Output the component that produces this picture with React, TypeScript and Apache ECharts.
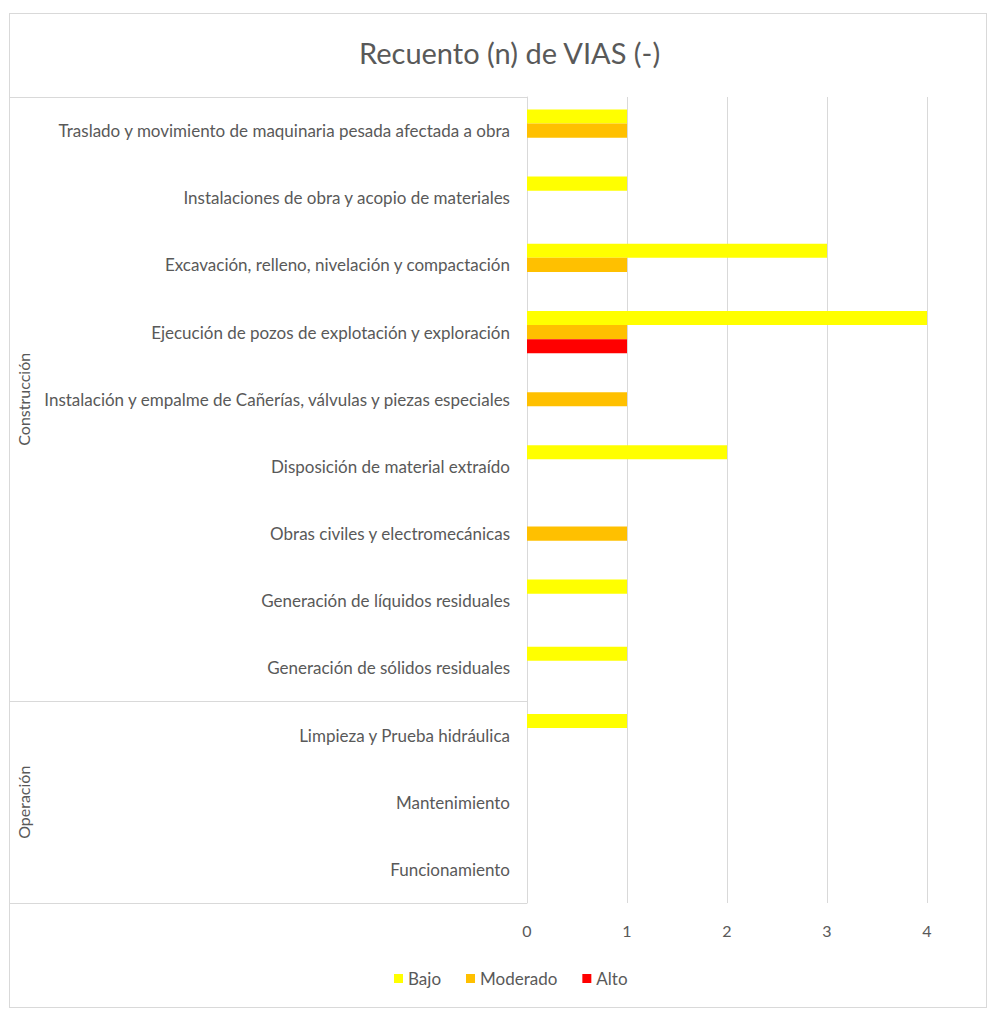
import React, { useEffect, useRef } from "react";
import * as echarts from "echarts";

const categories = [
  "Traslado y movimiento de maquinaria pesada afectada a obra",
  "Instalaciones de obra y acopio de materiales",
  "Excavación, relleno, nivelación y compactación",
  "Ejecución de pozos de explotación y exploración",
  "Instalación y empalme de Cañerías, válvulas y piezas especiales",
  "Disposición de material extraído",
  "Obras civiles y electromecánicas",
  "Generación de líquidos residuales",
  "Generación de sólidos residuales",
  "Limpieza y Prueba hidráulica",
  "Mantenimiento",
  "Funcionamiento",
];

const groups = [
  { name: "Construcción", count: 9 },
  { name: "Operación", count: 3 },
];

const bajo = [1, 1, 3, 4, 0, 2, 0, 1, 1, 1, 0, 0];
const moderado = [1, 0, 1, 1, 1, 0, 1, 0, 0, 0, 0, 0];
const alto = [0, 0, 0, 1, 0, 0, 0, 0, 0, 0, 0, 0];

const xTicks = [0, 1, 2, 3, 4];

const seriesDefs = [
  { name: "Bajo", data: bajo, color: "#FFFF00" },
  { name: "Moderado", data: moderado, color: "#FFC000" },
  { name: "Alto", data: alto, color: "#FF0000" },
];

const FONT = "Lato, 'Liberation Sans', sans-serif";
const TEXT = "#595959";
const LINE = "#d9d9d9";

export default function App() {
  const ref = useRef<HTMLDivElement>(null);

  useEffect(() => {
    if (!ref.current) return;
    const chart = echarts.init(ref.current, undefined, { renderer: "svg" });

    const boundaries: number[] = [];
    const centers: { v: number; name: string }[] = [];
    let acc = 0;
    groups.forEach((g) => {
      boundaries.push(acc);
      centers.push({ v: acc + g.count / 2, name: g.name });
      acc += g.count;
    });

    const gridLeft = 527;

    chart.setOption({
      animation: false,
      backgroundColor: "#ffffff",
      textStyle: { fontFamily: FONT },
      title: {
        text: "Recuento (n) de VIAS (-)",
        left: 354,
        top: 33,
        textStyle: { fontFamily: FONT, fontSize: 29, fontWeight: "normal", color: TEXT },
      },
      legend: {
        data: seriesDefs.map((s) => s.name),
        bottom: 19,
        left: 389,
        icon: "rect",
        itemWidth: 9,
        itemHeight: 9,
        itemGap: 25,
        textStyle: { fontFamily: FONT, fontSize: 17, color: TEXT },
      },
      grid: { left: gridLeft, right: 67, top: 97, bottom: 108, containLabel: false },
      xAxis: {
        type: "value",
        min: xTicks[0],
        max: xTicks[xTicks.length - 1],
        interval: 1,
        axisLine: { show: false },
        axisTick: { show: false },
        splitLine: { show: true, lineStyle: { color: LINE, width: 1 } },
        axisLabel: { fontFamily: FONT, fontSize: 16, color: TEXT, margin: 19 },
      },
      yAxis: [
        {
          type: "category",
          data: categories,
          inverse: true,
          axisLine: { show: true, lineStyle: { color: LINE } },
          axisTick: {
            show: true,
            interval: (i: number) => boundaries.includes(i),
            length: gridLeft - 9,
            lineStyle: { color: LINE },
          },
          axisLabel: { fontFamily: FONT, fontSize: 17, color: TEXT, margin: 17 },
        },
        {
          type: "value",
          min: 0,
          max: categories.length,
          interval: 0.5,
          inverse: true,
          position: "left",
          offset: gridLeft - 31,
          axisLine: { show: false },
          axisTick: { show: false },
          splitLine: { show: false },
          axisLabel: {
            rotate: 90,
            margin: 0,
            fontFamily: FONT,
            fontSize: 16,
            color: TEXT,
            formatter: (v: number) => {
              const c = centers.find((c) => Math.abs(c.v - v) < 1e-6);
              return c ? c.name : "";
            },
          },
        },
      ],
      series: seriesDefs.map((s) => ({
        name: s.name,
        type: "bar",
        yAxisIndex: 0,
        data: s.data,
        barGap: "0%",
        barCategoryGap: "37%",
        itemStyle: { color: s.color },
      })),
    });

    return () => chart.dispose();
  }, []);

  return (
    <>
      <div
        ref={ref}
        style={{ position: "absolute", left: 0, top: 0, width: 994, height: 1011 }}
      />
      <div
        style={{
          position: "absolute",
          left: 9,
          top: 13,
          width: 978,
          height: 995,
          border: `1px solid ${LINE}`,
          boxSizing: "border-box",
          pointerEvents: "none",
        }}
      />
    </>
  );
}
